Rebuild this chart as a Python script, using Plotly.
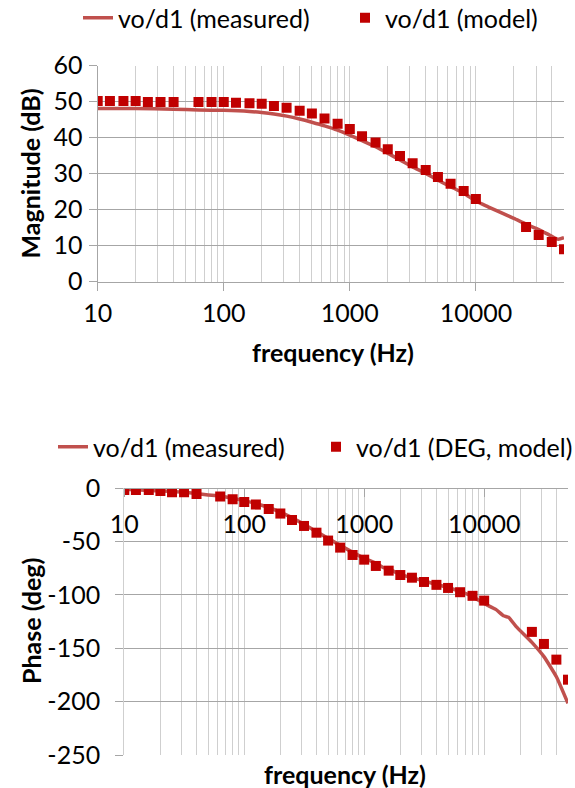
import plotly.graph_objects as go

W, H = 575, 788

# ---------------- data ----------------
model_freq = [10, 12.5, 16, 20, 25, 31.5, 40, 63, 80, 100, 125, 160, 200, 250, 315, 400,
              500, 630, 800, 1000, 1250, 1600, 2000, 2500, 3150, 4000, 5000, 6300, 8000,
              10000, 25000, 31500, 40000, 50000]
model_mag = [50.2, 50.2, 50.2, 50.2, 49.9, 49.9, 49.9, 49.9, 49.9, 49.9, 49.7, 49.6, 49.4,
             48.8, 48.3, 47.5, 46.7, 45.3, 43.9, 42.4, 40.4, 38.7, 36.8, 34.9, 32.9, 31.0,
             29.1, 27.2, 25.2, 23.0, 15.2, 13.0, 11.0, 9.0]
model_phase = [-1.6, -1.6, -1.6, -2.5, -3.7, -3.7, -5.3, -7.8, -10.3, -12.8, -15.3, -19.4,
               -23.7, -29.7, -35.3, -41.6, -49.0, -55.6, -62.5, -66.9, -72.8, -77.2, -81.3,
               -83.8, -87.8, -90.5, -93.4, -97.4, -100.8, -105.3, -134.6, -145.9, -160.6,
               -179.4]

meas_mag_freq = [10, 20, 40, 63, 100, 160, 200, 250, 316, 400, 500, 630, 800, 1000, 1250,
                 1600, 2000, 2500, 3150, 4000, 5000, 6300, 8000, 10000, 12500, 16000, 20000,
                 25000, 31500, 40000, 45000, 50000]
meas_mag = [48.1, 48.1, 47.9, 47.7, 47.6, 47.3, 47.0, 46.6, 46.0, 45.2, 44.3, 43.3, 42.1,
            40.7, 39.2, 37.5, 35.7, 33.8, 31.9, 30.1, 28.2, 26.4, 24.6, 22.4, 20.8, 19.1,
            17.6, 16.0, 14.5, 12.6, 11.8, 12.2]

meas_ph_freq = [10, 20, 30, 40, 50, 63, 100, 160, 250, 400, 630, 1000, 1250, 1450, 1600,
                2000, 3150, 5000, 6300, 8000, 10000, 12500, 14500, 16000, 18500, 25000,
                31500, 40000, 50000]
meas_phase = [-1.0, -2.5, -3.5, -5.0, -6.2, -7.2, -11.6, -18.0, -27.5, -40.6, -53.5, -65.6,
              -70.0, -74.4, -75.6, -80.6, -86.9, -93.0, -96.6, -101.5, -108.0, -113.5,
              -119.5, -121.0, -129.7, -144.4, -157.8, -176.6, -201.6]

major_ticks = [10, 100, 1000, 10000]
major_labels = ["10", "100", "1000", "10000"]
minor_ticks = [20, 30, 40, 50, 60, 70, 80, 90, 200, 300, 400, 500, 600, 700, 800, 900,
               2000, 3000, 4000, 5000, 6000, 7000, 8000, 9000, 20000, 30000, 40000, 50000]
mag_ticks = [0, 10, 20, 30, 40, 50, 60]
mag_labels = ["0", "10", "20", "30", "40", "50", "60"]
phase_ticks = [0, -50, -100, -150, -200, -250]
phase_labels = ["0", "-50", "-100", "-150", "-200", "-250"]

LINE_C = "#c0504d"
MARK_C = "#c00000"
HGRID = "#a6a6a6"
VGRID = "#cfcfcf"
FONT = "Lato"
TXT = "#000000"
TICK_SIZE = 25
LEG_SIZE = 25
TITLE_SIZE = 25


def px(x):
    return x / W


def py(y):
    return 1 - y / H


fig = go.Figure()

fig.add_trace(go.Scatter(x=meas_mag_freq, y=meas_mag, mode="lines", name="vo/d1 (measured)",
                         line=dict(color=LINE_C, width=3.5, shape="spline", smoothing=0.6),
                         xaxis="x", yaxis="y", legend="legend"))
fig.add_trace(go.Scatter(x=model_freq, y=model_mag, mode="markers", name="vo/d1 (model)",
                         marker=dict(symbol="square", color=MARK_C, size=10),
                         xaxis="x", yaxis="y", legend="legend2"))
fig.add_trace(go.Scatter(x=meas_ph_freq, y=meas_phase, mode="lines", name="vo/d1 (measured)",
                         line=dict(color=LINE_C, width=3.5, shape="spline", smoothing=0.4),
                         xaxis="x2", yaxis="y2", legend="legend3"))
fig.add_trace(go.Scatter(x=model_freq, y=model_phase, mode="markers",
                         name="vo/d1 (DEG, model)",
                         marker=dict(symbol="square", color=MARK_C, size=10),
                         xaxis="x2", yaxis="y2", legend="legend4"))

tick_font = dict(family=FONT, size=TICK_SIZE, color=TXT)

xcommon = dict(type="log", range=[1, 4.69897], tickmode="array", tickvals=major_ticks,
               ticktext=major_labels, showgrid=True, gridcolor=VGRID, gridwidth=1.3,
               minor=dict(tickmode="array", tickvals=minor_ticks, showgrid=True,
                          gridcolor=VGRID, gridwidth=1.3),
               ticks="outside", ticklen=8, tickcolor=HGRID, tickwidth=1.3,
               showline=True, linecolor=HGRID, linewidth=1.3, zeroline=False,
               tickfont=tick_font, fixedrange=True, automargin=False)


def leg(x, y):
    return dict(orientation="h", x=px(x), y=py(y), xanchor="left", yanchor="middle",
                font=dict(family=FONT, size=LEG_SIZE, color=TXT),
                bgcolor="rgba(0,0,0,0)", borderwidth=0)


fig.update_layout(
    width=W, height=H, margin=dict(l=0, r=0, t=0, b=0, autoexpand=False),
    paper_bgcolor="white", plot_bgcolor="white",
    font=dict(family=FONT, color=TXT),
    xaxis=dict(domain=[px(97.7), px(564)], anchor="y", ticklabelstandoff=1, **xcommon),
    yaxis=dict(domain=[py(281.7), py(65.7)], anchor="x", range=[0, 60],
               tickmode="array", tickvals=mag_ticks, ticktext=mag_labels,
               showgrid=True, gridcolor=HGRID, gridwidth=1.3, zeroline=False,
               ticks="outside", ticklen=8, tickcolor=HGRID, tickwidth=1.3,
               showline=True, linecolor=HGRID, linewidth=1.3,
               tickfont=tick_font, ticklabelstandoff=1, automargin=False),
    xaxis2=dict(domain=[px(124.3), px(568)], anchor="free", position=py(488.3),
                side="bottom", ticklabelstandoff=6, **xcommon),
    yaxis2=dict(domain=[py(755), py(488.3)], anchor="x2", range=[-250, 0],
                tickmode="array", tickvals=phase_ticks, ticktext=phase_labels,
                showgrid=True, gridcolor=HGRID, gridwidth=1.3, zeroline=False,
                ticks="outside", ticklen=8, tickcolor=HGRID, tickwidth=1.3,
                showline=True, linecolor=VGRID, linewidth=1.3,
                tickfont=tick_font, ticklabelstandoff=10, automargin=False),
    legend=leg(78, 18),
    legend2=leg(345, 18),
    legend3=leg(53, 447),
    legend4=leg(316, 447),
    showlegend=True,
    annotations=[
        dict(text="<b>Magnitude (dB)</b>", x=px(29), y=py(173.5), xref="paper", yref="paper",
             textangle=-90, showarrow=False,
             font=dict(family=FONT, size=TITLE_SIZE, color=TXT),
             xanchor="center", yanchor="middle"),
        dict(text="<b>frequency (Hz)</b>", x=px(333), y=py(352), xref="paper", yref="paper",
             showarrow=False, font=dict(family=FONT, size=TITLE_SIZE, color=TXT),
             xanchor="center", yanchor="middle"),
        dict(text="<b>Phase (deg)</b>", x=px(31), y=py(621), xref="paper", yref="paper",
             textangle=-90, showarrow=False,
             font=dict(family=FONT, size=TITLE_SIZE, color=TXT),
             xanchor="center", yanchor="middle"),
        dict(text="<b>frequency (Hz)</b>", x=px(345), y=py(774), xref="paper", yref="paper",
             showarrow=False, font=dict(family=FONT, size=TITLE_SIZE, color=TXT),
             xanchor="center", yanchor="middle"),
    ],
)

fig.write_html("out.html")
